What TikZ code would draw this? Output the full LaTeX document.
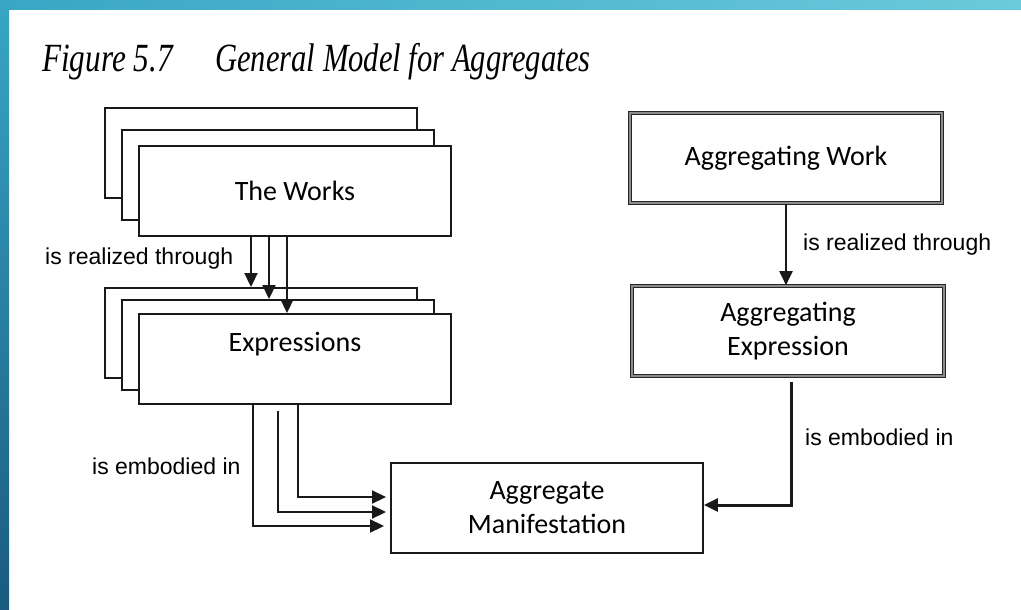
\documentclass[tikz,border=0pt]{standalone}
\usepackage{xcolor}
\usepackage{fontspec}
\setmainfont{Carlito}
\newfontfamily\lblfont{Liberation Sans}
\newfontfamily\capfont{Liberation Serif}
\usetikzlibrary{
	positioning,       %定位
	arrows.meta,        %箭头
	calc,               %计算
	shadings            %渐变
}
\definecolor{bandleft}{HTML}{38A6C5}
\definecolor{bandright}{HTML}{6BCADB}
\definecolor{banddark}{HTML}{1A5A80}
\tikzset{
	every picture/.style={
		>={Triangle[length=14pt,width=13pt]}
	},
	entity/.style={rectangle, draw=black!90, line width=1.9pt, fill=white,
		minimum width=312pt, minimum height=90pt, align=center,
		font=\fontsize{28}{34}\selectfont},
	aggbox/.style={entity, draw=black!85, double=black!45,
		double distance=1.1pt, line width=1.6pt},
	rel/.style={font=\lblfont\fontsize{23}{27}\selectfont, anchor=west, inner sep=0pt},
	link/.style={->, line width=1.9pt, draw=black!90}
}

\begin{document}
\begin{tikzpicture}[x=1pt,y=-1pt]
\useasboundingbox (0,0) rectangle (1021,610);
\fill[white] (0,0) rectangle (1021,610);
% slide border
\shade[left color=bandleft, right color=bandright] (0,0) rectangle (1021,10);
\shade[top color=bandleft, bottom color=banddark] (0,0) rectangle (9,610);
% title
\node[anchor=base west, inner sep=0pt, xscale=0.78,
	font=\capfont\itshape\fontsize{40}{44}\selectfont] (fignum) at (42,72) {Figure 5.7};
\node[anchor=base west, inner sep=0pt, xscale=0.765,
	font=\capfont\itshape\fontsize{40}{44}\selectfont] (figtitle) at (215,72) {General Model for Aggregates};
% the works and the expressions
\node[entity] (worksA) at (261,153) {};
\node[entity] (worksB) at (278,175) {};
\node[entity] (works) at (295,191) {The Works};
\node[entity] (exprA) at (261,333) {};
\node[entity] (exprB) at (278,345) {};
\node[entity] (expr) at (295,359) {Expressions\\ \mbox{}};
\node[entity] (agg) at (547,508) {Aggregate\\Manifestation};
% aggregating side
\node[aggbox] (aggwork) at (786,158) {Aggregating Work};
\node[aggbox] (aggexpr) at (788,331) {Aggregating\\Expression};
% connectors
\draw[link] (251,0 |- works.south) -- (251,0 |- exprA.north);
\draw[link] (269,0 |- works.south) -- (269,0 |- exprB.north);
\draw[link] (287,0 |- works.south) -- (287,0 |- expr.north);
\draw[link, shorten >=4pt] (298,0 |- expr.south) |- ([yshift=11pt]agg.west);
\draw[link, shorten <=6pt, shorten >=4pt] (278,0 |- expr.south) |- ([yshift=-4pt]agg.west);
\draw[link, shorten >=6pt] (253,0 |- expr.south) |- ([yshift=-18pt]agg.west);
\draw[link] (aggwork.south) -- (aggwork.south |- aggexpr.north);
\draw[link, line width=3pt, shorten <=5pt] (791,0 |- aggexpr.south) |- ([yshift=3pt]agg.east);
% labels
\node[rel] (realL) at (45,259) {is realized through};
\node[rel] (embL) at (92,466) {is embodied in};
\node[rel] (realR) at (803,245) {is realized through};
\node[rel] (embR) at (805,437) {is embodied in};
\end{tikzpicture}
\end{document}
